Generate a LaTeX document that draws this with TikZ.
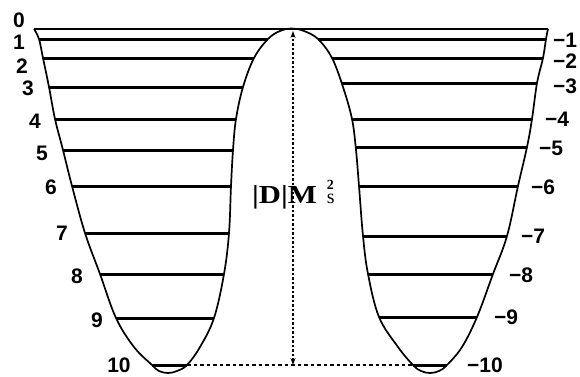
\documentclass[tikz,border=0pt]{standalone}
\usepackage{fontspec}
\newfontfamily\numfont{Liberation Sans}
\newfontfamily\symfont{Liberation Serif}
\usetikzlibrary{arrows.meta}
\definecolor{Ink}{HTML}{000000}
\tikzset{
  wall/.style={line width=1.7pt, line join=round, color=Ink},
  rung/.style={line width=3pt, color=Ink},
  rim/.style={line width=2pt, color=Ink},
  num/.style={font=\numfont\bfseries\fontsize{21}{21}\selectfont, inner sep=0pt},
  gapArr/.style={{Stealth[length=7pt,width=5pt]}-{Stealth[length=7pt,width=5pt]}, line width=1.1pt, dash pattern=on 2.5pt off 2pt},
  gapLine/.style={line width=1.1pt, dash pattern=on 3.5pt off 3pt},
}
\begin{document}
\begin{tikzpicture}[x=1pt,y=-1pt]
\useasboundingbox (0,0) rectangle (580,376);

% double well
\draw[wall] plot[smooth, tension=0.6] coordinates {
  (34,29) (39,39) (43,58) (49,87) (55,119) (63,150) (72,186) (85,233)
  (100,274) (116,318) (134,347) (152,365) (159,371) (168,373) (177,371)
  (187,365) (200,347) (214,318) (224,274) (229,233) (231,186) (233,150)
  (236,119) (243,87) (254,58) (268,39) (280,31) (292,28.5) (304,31)
  (318,39) (332,58) (343,87) (352,119) (356,150) (359,186) (363,236)
  (368,274) (379,317) (398,347) (413,365) (421,371) (430,373) (439,371)
  (447,365) (462,347) (477,317) (493,274) (507,236) (518,186) (527,147)
  (532,119) (537,83) (543,58) (546,39) (548,29)};
\draw[rim] (34,29) -- (548,29);

% levels
\foreach \y/\a/\b in {39/39/268, 58/43/254, 87/49/243, 119/55/236, 150/63/233,
  186/72/231, 233/85/229, 274/100/224, 318/116/214, 365/152/187}
  \draw[rung] (\a,\y) -- (\b,\y);
\foreach \y/\a/\b in {39/318/546, 58/332/543, 83/342/537, 119/352/532, 147/356/527,
  186/359/518, 236/363/507, 274/368/493, 317/379/477, 365/413/447}
  \draw[rung] (\a,\y) -- (\b,\y);

% barrier height
\coordinate (peak) at (293,31);
\coordinate (floor) at (293,365);
\coordinate (lb) at (187,365);
\coordinate (rb) at (413,365);
\draw[gapLine] (lb) -- (rb);
\draw[gapArr] (floor) -- (peak);
\node[anchor=base west, inner sep=0pt] (gap) at (252,203)
  {\scalebox{1.18}[1]{\symfont\bfseries\fontsize{26}{26}\selectfont |D|M}\hspace{10pt}%
   \begin{tabular}[b]{@{}l@{}}
     \symfont\bfseries\fontsize{14}{14}\selectfont 2\\
     \symfont\fontsize{20}{14}\selectfont s
   \end{tabular}};

% labels
\foreach \x/\y/\t in {19/20/0, 19/42/1, 22/66/2, 28/88/3, 35/121/4, 42/153/5,
  51/187/6, 62/233/7, 77/276/8, 97/320/9, 119/365/10}
  \node[num] (l\t) at (\x,\y) {\t};
\foreach \x/\y/\t in {565/40/1, 565/61/2, 565/86/3, 557/119/4, 551/148/5,
  543/187/6, 533/236/7, 521/275/8, 506/317/9, 485/365/10}
  \node[num] (r\t) at (\x,\y) {−\t};
\end{tikzpicture}
\end{document}
